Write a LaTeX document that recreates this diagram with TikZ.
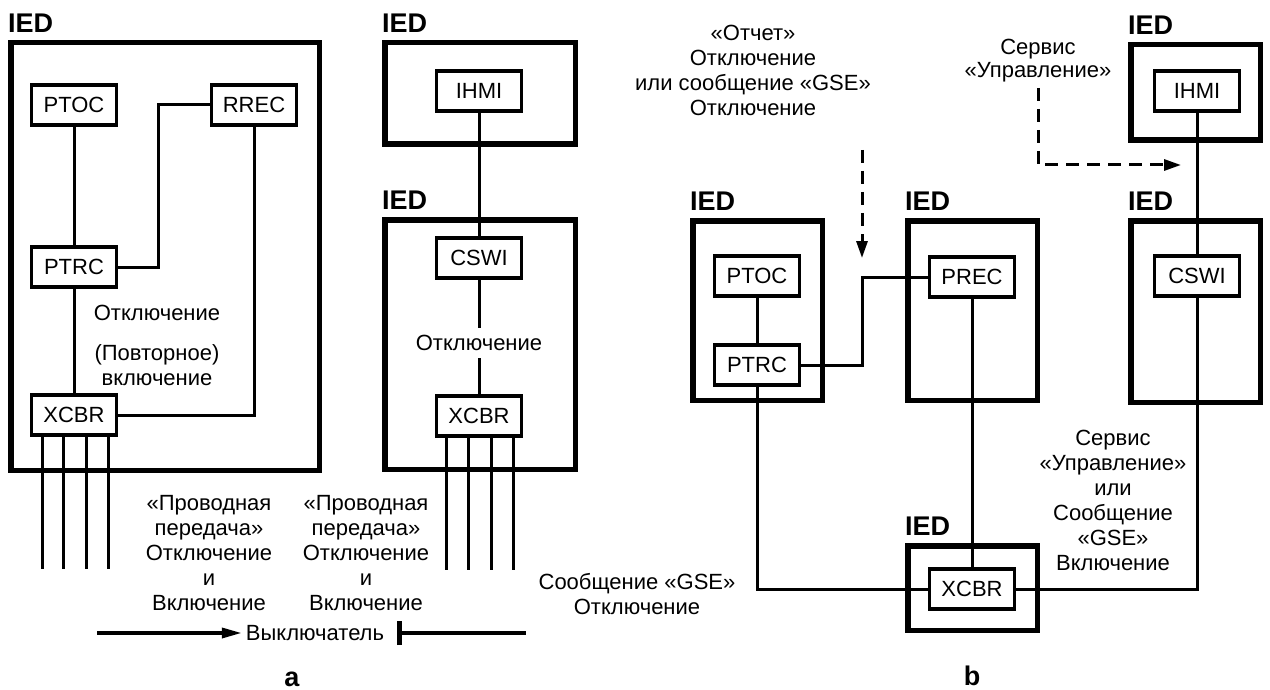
\documentclass[tikz,border=0pt]{standalone}
\usepackage{fontspec}
\setmainfont{Liberation Sans}
\usetikzlibrary{arrows.meta,fit}
\begin{document}
\begin{tikzpicture}[x=1pt,y=-1pt,
  txt/.style={font=\fontsize{22}{25}\selectfont, inner sep=0pt, align=center},
  iedlbl/.style={font=\fontsize{27}{30}\selectfont\bfseries, inner sep=0pt, anchor=south west},
  iedbox/.style={draw, line width=5.5pt, inner sep=0pt},
  ln/.style={draw, minimum width=85pt, minimum height=40pt, line width=3.5pt, font=\fontsize{22}{25}\selectfont, inner sep=0pt},
  wire/.style={line width=3pt},
  dasharrow/.style={line width=3pt, dash pattern=on 13pt off 8pt, -{Triangle[length=17pt,width=11pt]}},
  sublbl/.style={font=\fontsize{27}{30}\selectfont\bfseries, inner sep=0pt}
]
\useasboundingbox (0,0) rectangle (1270,690);

% ---------- IED boxes ----------
\node[iedbox, fit={(10.75,42.75) (319.25,470.25)}] (boxA) {};
\node[iedbox, fit={(384.75,42.75) (575.25,144.25)}] (boxM1) {};
\node[iedbox, fit={(384.75,219.75) (575.25,469.25)}] (boxM2) {};
\node[iedbox, fit={(692.75,220.75) (822.25,400.25)}] (boxB1) {};
\node[iedbox, fit={(907.75,220.75) (1037.25,400.25)}] (boxB2) {};
\node[iedbox, fit={(907.75,545.75) (1037.25,630.25)}] (boxB3) {};
\node[iedbox, fit={(1130.75,44.75) (1260.25,140.25)}] (boxB4) {};
\node[iedbox, fit={(1130.75,220.75) (1260.25,402.25)}] (boxB5) {};

\foreach \b in {boxA,boxM1,boxM2,boxB1,boxB2,boxB3,boxB4,boxB5}
  \node[iedlbl] (l\b) at ([yshift=7pt]\b.north west) {IED};

% ---------- part a ----------
\node[ln] (ptocA) at (74,105) {PTOC};
\node[ln] (rrecA) at (254,105) {RREC};
\node[ln] (ptrcA) at (74,267) {PTRC};
\node[ln] (xcbrA) at (74,415) {XCBR};
\coordinate (jA) at (158,105);
\draw[wire] (ptocA) -- (ptrcA);
\draw[wire] (ptrcA.east) -| (jA) -- (rrecA.west);
\draw[wire] (rrecA.south) |- (xcbrA.east);
\draw[wire] (ptrcA) -- (xcbrA);
\foreach \dx in {-32,-11,12,34}
  \draw[wire] ([xshift=\dx pt]xcbrA.south) -- ++(0,132);
\node[txt] (offA) at (157,313) {Отключение};
\node[txt] (rclA) at (157,365) {(Повторное)\\включение};

\node[ln] (ihmiM) at (479,91) {IHMI};
\node[ln] (cswiM) at (479,258) {CSWI};
\node[ln] (xcbrM) at (479,416) {XCBR};
\draw[wire] (ihmiM) -- (cswiM);
\draw[wire] (cswiM) -- (xcbrM);
\node[txt, fill=white, inner xsep=3pt, inner ysep=7pt] (offM) at (479,343) {Отключение};
\foreach \dx in {-33,-11,12,34}
  \draw[wire] ([xshift=\dx pt]xcbrM.south) -- ++(0,132);

\node[txt] (wA1) at (209,553) {«Проводная\\передача»\\Отключение\\и\\Включение};
\node[txt] (wA2) at (366,553) {«Проводная\\передача»\\Отключение\\и\\Включение};

\node[txt, inner xsep=4pt] (vk) at (315,633) {Выключатель};
\coordinate (arS) at (97,633);
\coordinate (barL) at (397,633);
\coordinate (barR) at (526,633);
\draw[line width=3.5pt, -{Triangle[length=20pt,width=10pt]}] (arS) -- (vk.west);
\draw[line width=3.5pt, {Bar[width=24pt,line width=5pt]}-] (barL) -- (barR);

\node[sublbl] (la) at (292,679) {a};

% ---------- part b ----------
\node[ln] (ptocB) at (757,276) {PTOC};
\node[ln] (ptrcB) at (757,365) {PTRC};
\node[ln] (precB) at (972,277) {PREC};
\node[ln] (xcbrB) at (972,589) {XCBR};
\node[ln] (ihmiB) at (1197,91) {IHMI};
\node[ln] (cswiB) at (1197,276) {CSWI};
\coordinate (jB) at (862,277);
\draw[wire] (ptocB) -- (ptrcB);
\draw[wire] (ptrcB.east) -| (jB) -- (precB.west);
\draw[wire] (precB) -- (xcbrB);
\draw[wire] (ptrcB.south) |- (xcbrB.west);
\draw[wire] (xcbrB.east) -| (cswiB.south);
\draw[wire] (ihmiB) -- (cswiB);

\coordinate (d1s) at (862,150);
\coordinate (d1e) at (862,258);
\draw[dasharrow] (d1s) -- (d1e);
\coordinate (d2s) at (1038,88);
\coordinate (d2e) at (1181,165);
\draw[dasharrow] (d2s) |- (d2e);

\node[txt] (rep) at (753,70) {«Отчет»\\Отключение\\или сообщение «GSE»\\Отключение};
\node[txt, font=\fontsize{22}{23}\selectfont] (srv) at (1038,61) {Сервис\\«Управление»};
\node[txt] (srv2) at (1113,500) {Сервис\\«Управление»\\или\\Сообщение\\«GSE»\\Включение};
\node[txt] (gse) at (637,594) {Сообщение «GSE»\\Отключение};

\node[sublbl] (lb) at (972,676) {b};
\end{tikzpicture}
\end{document}
